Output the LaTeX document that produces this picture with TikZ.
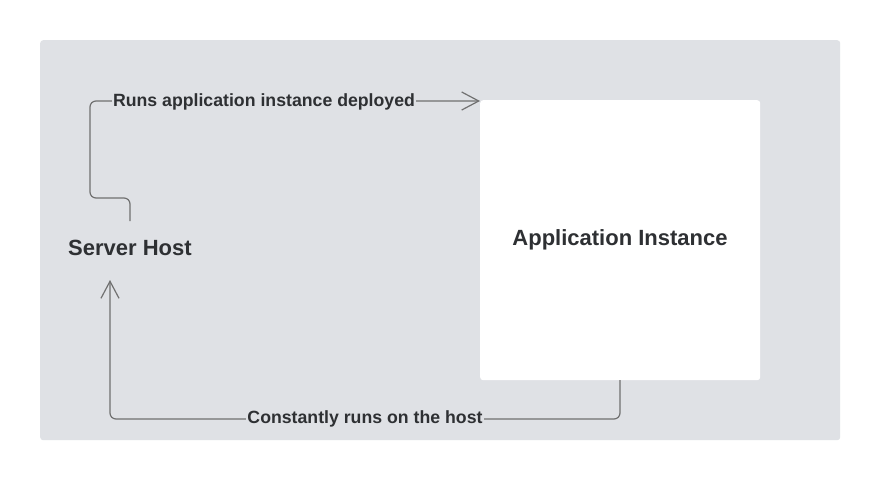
\documentclass[tikz,border=0pt]{standalone}
\usepackage{fontspec}
\setmainfont{Liberation Sans}
\usetikzlibrary{arrows.meta}
\definecolor{panel}{HTML}{DFE1E5}
\definecolor{txt}{HTML}{2E3033}
\definecolor{wire}{HTML}{707070}
\begin{document}
\begin{tikzpicture}[x=1pt,y=-1pt,
  title/.style={font=\fontsize{22}{26}\selectfont\bfseries, text=txt, inner sep=0pt},
  lbl/.style={font=\fontsize{17.7}{20}\selectfont\bfseries, text=txt, fill=panel, inner sep=1pt},
  wirestyle/.style={draw=wire, line width=1.2pt, rounded corners=6pt},
  tip/.style={-{Straight Barb[length=17pt,width=18pt,line width=1.2pt]}}]
\useasboundingbox (0,0) rectangle (880,480);
\fill[white] (0,0) rectangle (880,480);
\node[fill=panel, rounded corners=3pt, minimum width=800pt, minimum height=400pt, inner sep=0pt, anchor=north west] (bg) at (40,40) {};
\node[fill=white, rounded corners=3pt, minimum width=280pt, minimum height=280pt, inner sep=0pt, anchor=north west] (app) at (480,100) {};
\node[title] (apptext) at (620,240) {Application Instance};
\node[title] (host) at (130,248) {Server Host};
\coordinate (s1) at (130,221);
\coordinate (t1) at (480,101);
\coordinate (s2) at (620,380);
\coordinate (t2) at (110,280);
\draw[wirestyle, tip] (s1) -- (130,198) -- (90,198) -- (90,101) -- (t1);
\node[lbl] (l1) at (264,102) {Runs application instance deployed};
\draw[wirestyle, tip] (s2) -- (620,419) -- (110,419) -- (t2);
\node[lbl] (l2) at (365,419) {Constantly runs on the host};
\end{tikzpicture}
\end{document}
